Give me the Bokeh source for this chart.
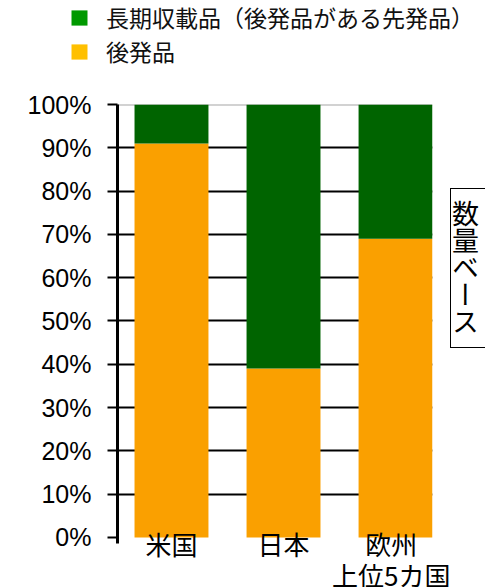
from bokeh.plotting import figure
from bokeh.models import (ColumnDataSource, FixedTicker, NumeralTickFormatter, Span,
                          Legend, LegendItem, Div, Range1d)
from bokeh.layouts import row, column
from bokeh.embed import file_html
from bokeh.resources import INLINE
from bokeh.core.properties import value

# ---- data ----
categories = ["米国", "日本", "欧州\n上位5カ国"]
generic_share = [0.91, 0.39, 0.69]
long_listed_share = [0.09, 0.61, 0.31]
series_names = ["長期収載品（後発品がある先発品）", "後発品"]
y_ticks = [0, 0.1, 0.2, 0.3, 0.4, 0.5, 0.6, 0.7, 0.8, 0.9, 1.0]
grid_ticks = y_ticks[1:-1]
side_note = "数量ベース"

# ---- styles ----
BAR_ORANGE = "#FAA000"
BAR_GREEN = "#006400"
LEG_ORANGE = "#FFC000"
LEG_GREEN = "#009900"
JP = "Noto Sans CJK JP"

x_pos = list(range(len(categories)))
src = ColumnDataSource(dict(x=x_pos, generic=generic_share, long=long_listed_share))

# ---- legend strip (own figure, legend inside its frame) ----
leg_fig = figure(width=485, height=80, output_backend="svg", toolbar_location=None,
                 x_axis_location=None, y_axis_location=None, title=None,
                 min_border=0, x_range=Range1d(0, 1), y_range=Range1d(0, 1))
leg_fig.outline_line_color = None
leg_fig.grid.visible = False
# series renderers carrying the legend colours (hidden; only their legend swatch shows)
r_long = leg_fig.vbar(x="x", top="long", width=0.5, source=src,
                      fill_color=LEG_GREEN, line_color=None, visible=False)
r_gen = leg_fig.vbar(x="x", top="generic", width=0.5, source=src,
                     fill_color=LEG_ORANGE, line_color=None, visible=False)
legend = Legend(items=[LegendItem(label=value(series_names[0]), renderers=[r_long]),
                       LegendItem(label=value(series_names[1]), renderers=[r_gen])],
                location=(69, 12), orientation="vertical",
                glyph_width=20, glyph_height=19, label_height=19,
                label_standoff=17, spacing=0, padding=0, margin=0,
                border_line_color=None, background_fill_alpha=0,
                inactive_fill_alpha=0,
                label_text_font=JP, label_text_font_size="23px",
                label_text_color="#111111")
leg_fig.add_layout(legend)

# ---- main chart ----
p = figure(frame_width=315, frame_height=439, title=None,
           x_range=Range1d(-0.482, 2.33), y_range=Range1d(-0.014, 1.0),
           output_backend="svg", toolbar_location=None,
           min_border_left=117, min_border_right=18, min_border_top=24,
           min_border_bottom=44)
p.outline_line_color = None
p.background_fill_color = "white"
p.border_fill_color = "white"

p.vbar_stack(["generic", "long"], x="x", width=0.66, source=src,
             fill_color=[BAR_ORANGE, BAR_GREEN], line_color=None)

# y axis
p.yaxis.ticker = FixedTicker(ticks=y_ticks)
p.yaxis.formatter = NumeralTickFormatter(format="0%")
p.yaxis.axis_line_color = "black"
p.yaxis.axis_line_width = 3
p.yaxis.major_tick_out = 10
p.yaxis.major_tick_in = 0
p.yaxis.major_tick_line_width = 2
p.yaxis.major_tick_line_color = "black"
p.yaxis.minor_tick_line_color = None
p.yaxis.major_label_standoff = 16
p.yaxis.major_label_text_font = "Liberation Sans"
p.yaxis.major_label_text_font_size = "25px"
p.yaxis.major_label_text_color = "black"

# x axis (category labels only)
p.xaxis.ticker = FixedTicker(ticks=x_pos)
p.xaxis.major_label_overrides = {i: c for i, c in zip(x_pos, categories)}
p.xaxis.axis_line_color = None
p.xaxis.major_tick_line_color = None
p.xaxis.minor_tick_line_color = None
p.xaxis.major_label_standoff = -25
p.xaxis.major_label_text_font = JP
p.xaxis.major_label_text_font_size = "26px"
p.xaxis.major_label_text_color = "black"
p.xaxis.major_label_text_line_height = 0.85

# grid
p.ygrid.ticker = FixedTicker(ticks=grid_ticks)
p.ygrid.grid_line_color = "black"
p.ygrid.grid_line_width = 2
p.xgrid.visible = False
p.add_layout(Span(location=y_ticks[-1], dimension="width", line_color="#a6a6a6",
                  line_width=2, level="underlay"))

html = ('<div style="box-sizing:border-box;width:45px;height:160px;'
        'border:1.5px solid #000;writing-mode:vertical-lr;'
        "font-family:'Noto Sans CJK JP';font-size:27px;line-height:29px;"
        f'padding-top:11px;color:#000;">{side_note}</div>')
div = Div(text=html, width=35, height=160, margin=(108, 0, 0, 0),
          styles={"overflow": "hidden"})

layout = column(leg_fig, row(p, div))
open("out.html", "w").write(file_html(layout, INLINE))
